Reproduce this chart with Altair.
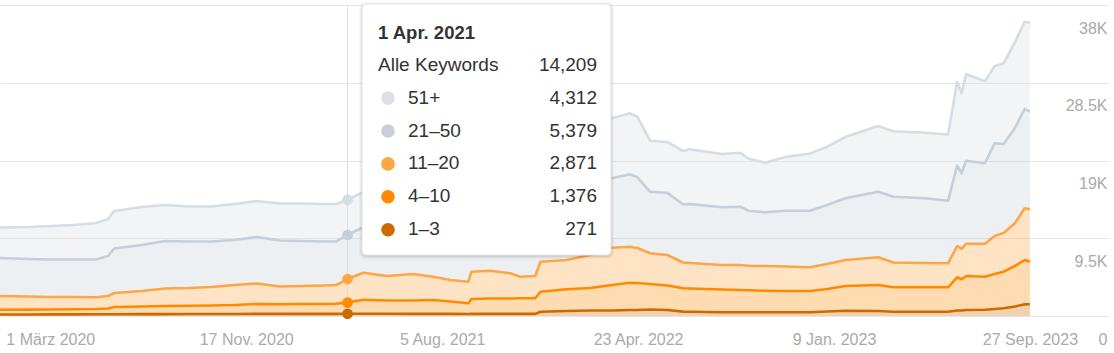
import altair as alt
import pandas as pd

# ---------------- data ----------------
dates = [
    "2019-12-25", "2020-02-01", "2020-03-01", "2020-04-01", "2020-05-01", "2020-05-17",
    "2020-05-25", "2020-07-01", "2020-08-01", "2020-09-01", "2020-10-01", "2020-11-01",
    "2020-12-01", "2021-01-01", "2021-02-01", "2021-03-01", "2021-03-17", "2021-04-01",
    "2021-04-22", "2021-05-24", "2021-06-27", "2021-07-24", "2021-08-16", "2021-09-09",
    "2021-09-13", "2021-10-08", "2021-11-04", "2021-11-17", "2021-12-07", "2021-12-14",
    "2022-01-18", "2022-02-18", "2022-03-19", "2022-04-12", "2022-04-22", "2022-05-09",
    "2022-06-01", "2022-06-22", "2022-07-01", "2022-08-13", "2022-09-06", "2022-09-17",
    "2022-10-09", "2022-11-05", "2022-12-08", "2022-12-31", "2023-01-24", "2023-03-09",
    "2023-03-29", "2023-05-10", "2023-06-10", "2023-06-22", "2023-06-28", "2023-07-04",
    "2023-07-29", "2023-08-11", "2023-08-23", "2023-09-07", "2023-09-20", "2023-09-27",
]

series_order = ["1–3", "4–10", "11–20", "21–50", "51+"]  # bottom -> top

pos_1_3 = [180, 185, 195, 198, 205, 208, 218, 228, 232, 240, 244, 246, 255, 256, 258,
           260, 262, 271, 275, 268, 262, 258, 255, 252, 262, 262, 260, 258, 258, 520,
           610, 668, 675, 730, 735, 790, 735, 530, 515, 465, 455, 452, 450, 452, 455,
           550, 645, 610, 528, 525, 522, 670, 672, 735, 770, 855, 940, 1160, 1425, 1430]
pos_4_10 = [590, 597, 599, 621, 650, 708, 882, 933, 990, 1006, 1039, 1098, 1211, 1186, 1208,
            1206, 1229, 1376, 1700, 1626, 1632, 1697, 1517, 1300, 1815, 1876, 1878, 1905, 1905, 2449,
            2652, 2753, 3113, 3339, 3297, 3120, 2992, 2855, 2845, 2773, 2722, 2688, 2641, 2603, 2600,
            2749, 3021, 3178, 2979, 2982, 2985, 4059, 3812, 4153, 4032, 4277, 4473, 4950, 5418, 5205]
pos_11_20 = [1674, 1601, 1528, 1503, 1430, 1528, 1710, 1894, 2138, 2175, 2261, 2444, 2505, 2163, 2200,
             2261, 2297, 2871, 3316, 2994, 3238, 2847, 2627, 2639, 3336, 3397, 3080, 2639, 2725, 3666,
             3581, 4033, 4558, 4399, 4277, 3751, 3727, 3152, 3116, 2994, 3055, 3006, 3019, 2993, 2896,
             3055, 3177, 3385, 3030, 2969, 2932, 3824, 3727, 3946, 4020, 4643, 4729, 5217, 6317, 6403]
pos_21_50 = [4643, 4582, 4582, 4582, 4619, 4887, 5438, 5620, 5804, 5682, 5559, 5498, 5682, 5620, 5498,
             5376, 5315, 5379, 5584, 6476, 6720, 7295, 7820, 8150, 7906, 8028, 8467, 9005, 9042, 8639,
             9164, 9042, 8480, 8846, 8639, 7527, 7612, 7087, 7209, 7050, 7123, 6721, 6561, 6819, 6916,
             7209, 7539, 8015, 8040, 7906, 7650, 9837, 9226, 10142, 9836, 11327, 10875, 11645, 12158, 11925]
pos_51_plus = [3727, 3910, 4093, 4215, 4460, 4521, 4582, 4644, 4399, 4277, 4277, 4399, 4399, 4521, 4582,
               4582, 4582, 4312, 4277, 4399, 4399, 4521, 4643, 4766, 5010, 5132, 5254, 5255, 5376, 5987,
               6720, 7087, 7331, 7454, 7404, 6232, 6195, 6537, 6684, 6513, 6599, 6378, 6061, 6561, 6989,
               7124, 7490, 8028, 8004, 8015, 8088, 10239, 9775, 10594, 10032, 9446, 9860, 10508, 10643, 10875]

line_colors = ["#cc6a00", "#ff8a00", "#ffa545", "#c6ced8", "#d7dde4"]
band_opacity = [0.30, 0.32, 0.28, 0.33, 0.27]
tooltip_dot_colors = ["#cc6a00", "#ff8a00", "#ffa640", "#c8cfd9", "#dde1e7"]

x_tick_dates = ["2020-03-01", "2020-11-17", "2021-08-05", "2022-04-23", "2023-01-09", "2023-09-27"]
x_tick_labels = ["1 März 2020", "17 Nov. 2020", "5 Aug. 2021", "23 Apr. 2022", "9 Jan. 2023", "27 Sep. 2023"]
x_domain_dates = ["2019-12-25", "2024-01-09"]
y_tick_values = [0, 9500, 19000, 28500, 38000]
y_tick_labels = ["0", "9.5K", "19K", "28.5K", "38K"]

hover_date = "2021-04-01"
tooltip_title = "1 Apr. 2021"
total_label = "Alle Keywords"

FONT = "Liberation Sans"
W, H = 1108, 311


def ts(d):
    return int(pd.Timestamp(d, tz="UTC").value // 10**6)


series_values = [pos_1_3, pos_4_10, pos_11_20, pos_21_50, pos_51_plus]
rows = []
for k, (name, vals) in enumerate(zip(series_order, series_values)):
    for d, v in zip(dates, vals):
        rows.append({"t": ts(d), "series": name, "order": k, "value": v, "hover": d == hover_date})
df = pd.DataFrame(rows)

# ---------------- axes / scales ----------------
x_label_expr = " : ".join(
    f"time(datum.value) == {ts(d)} ? '{lab}'" for d, lab in zip(x_tick_dates, x_tick_labels)
) + " : ''"
y_label_expr = " : ".join(
    f"datum.value == {v} ? '{lab}'" for v, lab in zip(y_tick_values, y_tick_labels)
) + " : ''"

x_axis = alt.Axis(
    values=[ts(d) for d in x_tick_dates], labelExpr=x_label_expr, grid=False, domain=False,
    ticks=False, tickSize=0, labelFont=FONT, labelFontSize=16, labelColor="#aaaaaa",
    labelBaseline="top", labelPadding=15, labelFlush=False, labelOverlap=False, title=None,
)
y_axis = alt.Axis(
    orient="right", values=y_tick_values, labelExpr=y_label_expr, grid=True, gridColor="#e6e6e6",
    gridWidth=1, domain=False, ticks=False, tickSize=0, labelAlign="right", labelBaseline="middle",
    labelPadding=-1, labelOffset=23, labelFont=FONT, labelFontSize=16, labelColor="#aaaaaa",
    labelOverlap=False, title=None,
)

X = alt.X("t:T", scale=alt.Scale(domain=[ts(x_domain_dates[0]), ts(x_domain_dates[1])], nice=False),
          axis=x_axis)
Y = alt.Y("y1:Q", scale=alt.Scale(domain=[0, 38000], nice=False), axis=y_axis)
color = alt.Color("series:N", scale=alt.Scale(domain=series_order, range=line_colors), legend=None)

base = alt.Chart(df).transform_stack(
    stack="value", groupby=["t"], as_=["y0", "y1"], sort=[alt.SortField("order", order="ascending")]
)

areas = base.mark_area(interpolate="linear").encode(
    x=X, y=Y, y2="y0:Q", color=color,
    fillOpacity=alt.FillOpacity("series:N", scale=alt.Scale(domain=series_order, range=band_opacity),
                                legend=None),
)
lines = base.mark_line(interpolate="linear", strokeWidth=2.6, strokeJoin="round").encode(
    x=X, y=Y, color=color, detail="series:N"
)
hover_rule = alt.Chart(df).transform_filter(
    (alt.datum.hover == True) & (alt.datum.order == 0)
).mark_rule(color="#dddddd", strokeWidth=1).encode(x=X)
hover_dots = base.transform_filter(alt.datum.hover == True).mark_circle(size=115, opacity=1).encode(
    x=X, y=Y, color=color
)

# ---------------- tooltip panel ----------------
hover_idx = dates.index(hover_date)
hover_vals = [vals[hover_idx] for vals in series_values]
total_val = sum(hover_vals)

dummy = pd.DataFrame({"k": [0]})
BOX_X0, BOX_X1, BOX_Y0, BOX_Y1 = 362, 611, -1, 250
TXT_X, DOT_X, LAB_X, VAL_X = 378, 388, 408, 597
TITLE_Y, TOTAL_Y, ROW_STEP = 33.5, 65.7, 32.9

tip_layers = []
for grow, op in [(3, 0.03), (2, 0.04), (1, 0.06)]:
    tip_layers.append(
        alt.Chart(dummy).mark_rect(color="#000000", opacity=op, cornerRadius=6).encode(
            x=alt.value(BOX_X0 - grow), x2=alt.value(BOX_X1 + grow),
            y=alt.value(BOX_Y0 - grow + 1), y2=alt.value(BOX_Y1 + grow + 1),
        )
    )
tip_layers.append(
    alt.Chart(dummy).mark_rect(fill="white", stroke="#e4e4e4", strokeWidth=1, cornerRadius=4).encode(
        x=alt.value(BOX_X0), x2=alt.value(BOX_X1), y=alt.value(BOX_Y0), y2=alt.value(BOX_Y1)
    )
)


def txt(text, x, y, align="left", bold=False, size=19):
    return alt.Chart(dummy).mark_text(
        text=text, align=align, baseline="alphabetic", font=FONT, fontSize=size,
        fontWeight="bold" if bold else "normal", color="#333333",
    ).encode(x=alt.value(x), y=alt.value(y))


tip_layers.append(txt(tooltip_title, TXT_X, TITLE_Y, bold=True, size=18.5))
tip_layers.append(txt(total_label, TXT_X, TOTAL_Y))
tip_layers.append(txt(f"{total_val:,}", VAL_X, TOTAL_Y, align="right"))
for i, k in enumerate(reversed(range(len(series_order)))):
    yb = TOTAL_Y + ROW_STEP * (i + 1)
    tip_layers.append(
        alt.Chart(dummy).mark_circle(size=185, opacity=1, color=tooltip_dot_colors[k]).encode(
            x=alt.value(DOT_X), y=alt.value(yb - 5.5)
        )
    )
    tip_layers.append(txt(series_order[k], LAB_X, yb))
    tip_layers.append(txt(f"{hover_vals[k]:,}", VAL_X, yb, align="right"))

chart = alt.layer(areas, hover_rule, lines, hover_dots, *tip_layers).properties(
    width=W, height=H,
    autosize=alt.AutoSizeParams(type="none"),
    padding={"left": 0, "top": 5, "right": 6, "bottom": 37},
    background="white",
).configure_view(stroke=None)

chart.save("out.html", embed_options={"renderer": "svg", "actions": False})
